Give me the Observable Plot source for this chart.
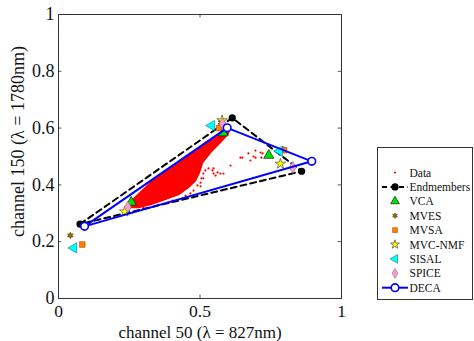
<!DOCTYPE html>
<html><head><meta charset="utf-8">
<script src="https://cdn.jsdelivr.net/npm/d3@7"></script>
<script src="https://cdn.jsdelivr.net/npm/@observablehq/plot@0.6"></script>
<style>body{margin:0;background:#fff}#chart{width:474px;height:341px}</style>
</head><body><div id="chart"></div>
<script>
// dense data core outline (x, y in data units)
const coreX = [0.244,0.325,0.431,0.519,0.572,0.601,0.601,0.572,0.537,0.509,0.498,0.484,0.459,0.424,0.378,0.325,0.283,0.247];
const coreY = [0.331,0.408,0.482,0.542,0.577,0.599,0.581,0.549,0.514,0.479,0.444,0.415,0.391,0.366,0.349,0.331,0.320,0.320];
// individual data pixels
const dataX = [0.300,0.353,0.403,0.449,0.477,0.466,0.438,0.389,0.502,0.530,0.544,0.562,0.555,0.572,0.608,0.512,0.502,0.491,0.512,0.650,0.671,0.678,0.696,0.714,0.643,0.689,0.696,0.721,0.717,0.548,0.583,0.548,0.519,0.505];
const dataY = [0.318,0.330,0.345,0.362,0.380,0.370,0.352,0.338,0.395,0.458,0.451,0.444,0.433,0.440,0.468,0.440,0.408,0.398,0.423,0.496,0.511,0.486,0.496,0.514,0.496,0.500,0.521,0.511,0.496,0.458,0.440,0.440,0.451,0.423];
// endmember estimates
const endX = [0.076,0.614,0.859];   const endY = [0.262,0.636,0.448];
const vcaX = [0.257,0.582,0.743];   const vcaY = [0.339,0.583,0.504];
const mvesX = [0.042,0.574,0.796];  const mvesY = [0.222,0.620,0.524];
const mvsaX = [0.084,0.567,0.797];  const mvsaY = [0.190,0.600,0.522];
const nmfX = [0.234,0.578,0.784];   const nmfY = [0.306,0.627,0.474];
const sisalX = [0.054,0.541,0.781]; const sisalY = [0.178,0.609,0.519];
const spiceX = [0.245,0.580,0.828]; const spiceY = [0.322,0.615,0.462];
const decaX = [0.092,0.596,0.895];  const decaY = [0.254,0.601,0.483];
const xTicks = [0, 0.5, 1];
const yTicks = [0, 0.2, 0.4, 0.6, 0.8, 1];
const legendLabels = ["Data","Endmembers","VCA","MVES","MVSA","MVC-NMF","SISAL","SPICE","DECA"];

const pts = (X, Y) => X.map((x, i) => ({x, y: Y[i]}));
const closed = (X, Y) => { const p = pts(X, Y); return p.concat([p[0]]); };

const hexagram = {draw(ctx, size) {
  const R = Math.sqrt(size / Math.PI), r = R * 0.55;
  for (let k = 0; k < 12; k++) {
    const a = -Math.PI / 2 + k * Math.PI / 6, rr = k % 2 ? r : R;
    const px = rr * Math.cos(a), py = rr * Math.sin(a);
    k ? ctx.lineTo(px, py) : ctx.moveTo(px, py);
  }
  ctx.closePath();
}};

const styles = {
  vca:   {symbol: "triangle", r: 3.8, fill: "#00e000", stroke: "#000", strokeWidth: 0.6},
  mves:  {symbol: hexagram, r: 3.2, fill: "#9c6a00", stroke: "#5a3c00", strokeWidth: 0.6},
  mvsa:  {symbol: "square", r: 3.2, fill: "#ff7f00", stroke: "#c04a00", strokeWidth: 0.6},
  nmf:   {symbol: "star", r: 3.3, fill: "#ffff00", stroke: "#333", strokeWidth: 0.6},
  sisal: {symbol: "triangle", r: 3.8, rotate: -90, fill: "#00ffff", stroke: "#007a8a", strokeWidth: 0.6},
  spice: {symbol: "diamond", r: 3.6, fill: "#ff99cc", stroke: "#777", strokeWidth: 0.6}
};

const plot = Plot.plot({
  width: 474, height: 341,
  marginLeft: 58, marginRight: 133, marginTop: 14, marginBottom: 43,
  style: {fontFamily: "Liberation Serif, Times New Roman, serif", fontSize: "18px", background: "#fff", color: "#111"},
  x: {domain: [0, 1]},
  y: {domain: [0, 1]},
  marks: [
    Plot.axisX(xTicks, {tickSize: 0, tickPadding: 6, tickFormat: d => String(d), label: null, fontSize: 17.5}),
    Plot.axisY(yTicks, {tickSize: 0, tickPadding: 4, tickFormat: d => String(d), label: null, fontSize: 18}),
    Plot.ruleX(xTicks.slice(1, -1), {x: d => d, y1: 0, y2: 0.012, stroke: "#555"}),
    Plot.ruleX(xTicks.slice(1, -1), {x: d => d, y1: 0.988, y2: 1, stroke: "#555"}),
    Plot.ruleY(yTicks.slice(1, -1), {y: d => d, x1: 0, x2: 0.012, stroke: "#555"}),
    Plot.ruleY(yTicks.slice(1, -1), {y: d => d, x1: 0.988, x2: 1, stroke: "#555"}),
    Plot.text(["channel 50 (λ = 827nm)"], {frameAnchor: "bottom", dy: 34, lineAnchor: "middle", textAnchor: "middle", text: d => d, fontSize: 17}),
    Plot.text(["channel 150 (λ = 1780nm)"], {frameAnchor: "left", dx: -40, dy: -15, rotate: -90, textAnchor: "middle", lineAnchor: "middle", text: d => d, fontSize: 18}),
    // data
    Plot.line(closed(coreX, coreY), {x: "x", y: "y", fill: "#ff0000", stroke: "#ff0000", strokeWidth: 1.5}),
    Plot.dot(pts(dataX, dataY), {x: "x", y: "y", r: 1.1, fill: "#ff0000"}),
    // endmembers
    Plot.line(closed(endX, endY), {x: "x", y: "y", stroke: "#000", strokeWidth: 2, strokeDasharray: "6,4"}),
    Plot.dot(pts(endX, endY), {x: "x", y: "y", r: 3.6, fill: "#000"}),
    Plot.dot(pts(vcaX, vcaY), {x: "x", y: "y", ...styles.vca}),
    Plot.dot(pts(mvesX, mvesY), {x: "x", y: "y", ...styles.mves}),
    Plot.dot(pts(mvsaX, mvsaY), {x: "x", y: "y", ...styles.mvsa}),
    Plot.dot(pts(nmfX, nmfY), {x: "x", y: "y", ...styles.nmf}),
    Plot.dot(pts(sisalX, sisalY), {x: "x", y: "y", ...styles.sisal}),
    Plot.dot(pts(spiceX, spiceY), {x: "x", y: "y", ...styles.spice}),
    Plot.line(closed(decaX, decaY), {x: "x", y: "y", stroke: "#0000ff", strokeWidth: 2}),
    Plot.dot(pts(decaX, decaY), {x: "x", y: "y", r: 3.8, fill: "#fff", stroke: "#0000ff", strokeWidth: 1.6}),
    Plot.frame({stroke: "#333"})
  ]
});
document.getElementById("chart").appendChild(plot);

// legend box on the right
const svg = d3.select(plot);
const lg = svg.append("g").attr("transform", "translate(377.5,147.5)");
lg.append("rect").attr("width", 95).attr("height", 152).attr("fill", "#fff").attr("stroke", "#333");
const sx = 17.5, tx = 32, y0 = 25, dyRow = 14.4;
const sym = (s, r) => d3.symbol(typeof s === "string" ? {triangle: d3.symbolTriangle, square: d3.symbolSquare, star: d3.symbolStar, diamond: d3.symbolDiamond}[s] : s, Math.PI * r * r)();
legendLabels.forEach((lab, i) => {
  const y = y0 + i * dyRow;
  const g = lg.append("g").attr("transform", `translate(0,${y})`);
  g.append("text").attr("x", tx).attr("y", 0).attr("dy", "0.35em").attr("font-size", 11.5)
    .attr("text-anchor", "start")
    .attr("font-family", "Liberation Serif, Times New Roman, serif").attr("fill", "#111").text(lab);
  const c = g.append("g").attr("transform", `translate(${sx},0)`);
  if (lab === "Data") c.append("circle").attr("r", 1.1).attr("fill", "#ff0000");
  else if (lab === "Endmembers") {
    c.append("line").attr("x1", -13).attr("x2", 13).attr("stroke", "#000").attr("stroke-width", 2).attr("stroke-dasharray", "5,3.5");
    c.append("circle").attr("r", 3.6).attr("fill", "#000");
  } else if (lab === "DECA") {
    c.append("line").attr("x1", -13).attr("x2", 13).attr("stroke", "#0000ff").attr("stroke-width", 2);
    c.append("circle").attr("r", 3.8).attr("fill", "#fff").attr("stroke", "#0000ff").attr("stroke-width", 1.6);
  } else {
    const key = {"VCA": "vca", "MVES": "mves", "MVSA": "mvsa", "MVC-NMF": "nmf", "SISAL": "sisal", "SPICE": "spice"}[lab];
    const st = styles[key];
    c.append("path").attr("d", sym(st.symbol, st.r * 0.85)).attr("fill", st.fill).attr("stroke", st.stroke)
      .attr("stroke-width", st.strokeWidth).attr("transform", st.rotate ? `rotate(${st.rotate})` : null);
  }
});
</script>
</body></html>
